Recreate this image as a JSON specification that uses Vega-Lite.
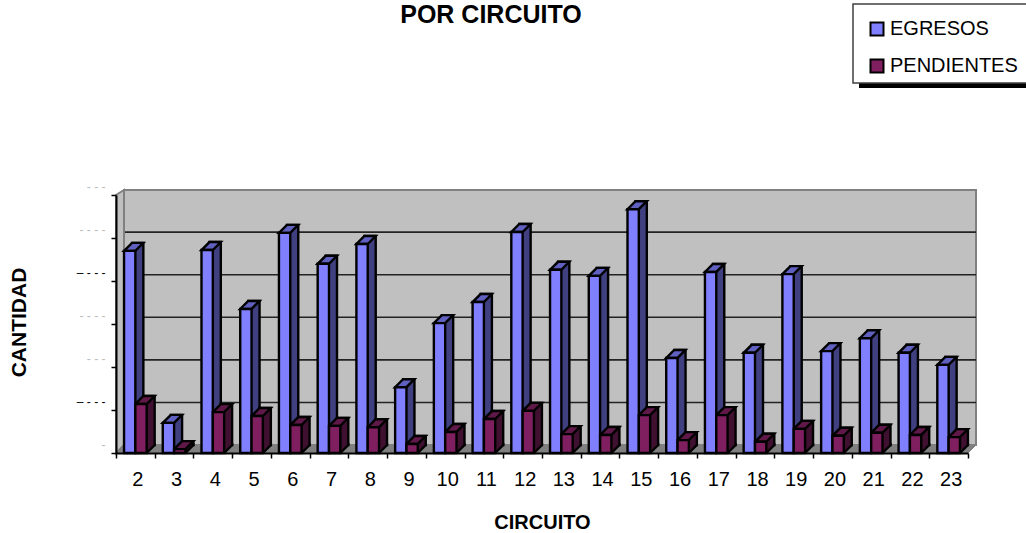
{
"$schema":"https://vega.github.io/schema/vega-lite/v6.json",
"width":852,"height":258,
"autosize":{"type":"none"},
"padding":{"left":116,"top":195,"right":58,"bottom":80},
"background":"white",
"title":{"text":"POR CIRCUITO","font":"Liberation Sans","fontSize":25,"fontWeight":"bold","color":"#000","anchor":"middle","dx":-51,"offset":-27},
"config":{"view":{"stroke":null},"font":"Liberation Sans"},
"data":{"values":[
{"c":2,"s":"EGRESOS","v":470},{"c":3,"s":"EGRESOS","v":70},{"c":4,"s":"EGRESOS","v":472},{"c":5,"s":"EGRESOS","v":335},{"c":6,"s":"EGRESOS","v":512},{"c":7,"s":"EGRESOS","v":440},{"c":8,"s":"EGRESOS","v":486},{"c":9,"s":"EGRESOS","v":153},{"c":10,"s":"EGRESOS","v":302},{"c":11,"s":"EGRESOS","v":351},{"c":12,"s":"EGRESOS","v":514},{"c":13,"s":"EGRESOS","v":426},{"c":14,"s":"EGRESOS","v":412},{"c":15,"s":"EGRESOS","v":567},{"c":16,"s":"EGRESOS","v":221},{"c":17,"s":"EGRESOS","v":421},{"c":18,"s":"EGRESOS","v":233},{"c":19,"s":"EGRESOS","v":416},{"c":20,"s":"EGRESOS","v":237},{"c":21,"s":"EGRESOS","v":267},{"c":22,"s":"EGRESOS","v":233},{"c":23,"s":"EGRESOS","v":205},
{"c":2,"s":"PENDIENTES","v":114},{"c":3,"s":"PENDIENTES","v":9},{"c":4,"s":"PENDIENTES","v":95},{"c":5,"s":"PENDIENTES","v":86},{"c":6,"s":"PENDIENTES","v":65},{"c":7,"s":"PENDIENTES","v":63},{"c":8,"s":"PENDIENTES","v":60},{"c":9,"s":"PENDIENTES","v":21},{"c":10,"s":"PENDIENTES","v":49},{"c":11,"s":"PENDIENTES","v":79},{"c":12,"s":"PENDIENTES","v":98},{"c":13,"s":"PENDIENTES","v":44},{"c":14,"s":"PENDIENTES","v":42},{"c":15,"s":"PENDIENTES","v":88},{"c":16,"s":"PENDIENTES","v":30},{"c":17,"s":"PENDIENTES","v":88},{"c":18,"s":"PENDIENTES","v":26},{"c":19,"s":"PENDIENTES","v":56},{"c":20,"s":"PENDIENTES","v":40},{"c":21,"s":"PENDIENTES","v":47},{"c":22,"s":"PENDIENTES","v":42},{"c":23,"s":"PENDIENTES","v":37}
]},
"resolve":{"scale":{"y":"independent","color":"independent"}},
"layer":[
{"data":{"values":[{"k":"muro"}]},"mark":{"type":"point","filled":true,"opacity":1,"size":4,"fill":"#C0C0C0","stroke":"#808080","strokeWidth":2,"shape":"M8,-8 L860,-8 L860,-263 L8,-263 Z"},
 "encoding":{"x":{"datum":2,"type":"ordinal","bandPosition":0,"scale":{"domain":[2,3,4,5,6,7,8,9,10,11,12,13,14,15,16,17,18,19,20,21,22,23]}},"y":{"datum":0,"type":"quantitative","scale":{"domain":[0,600]},"axis":null}}},
{"data":{"values":[{"g":100},{"g":200},{"g":300},{"g":400},{"g":500}]},"mark":{"type":"rule","color":"#222","strokeWidth":1.6,"xOffset":8,"yOffset":-8},
 "encoding":{"y":{"field":"g","type":"quantitative","scale":{"domain":[0,606]},"axis":null}}},
{"data":{"values":[{"k":"piso"}]},"mark":{"type":"point","filled":true,"opacity":1,"size":4,"fill":"#808080","stroke":"#808080","strokeWidth":1,"shape":"M0,0 L8,-8 L860,-8 L852,0 Z"},
 "encoding":{"x":{"datum":2,"type":"ordinal","bandPosition":0},"y":{"datum":0,"type":"quantitative","scale":{"domain":[0,600]},"axis":null}}},
{"data":{"values":[{"k":"pared"}]},"mark":{"type":"point","filled":true,"opacity":1,"size":4,"fill":"#C0C0C0","stroke":"#808080","strokeWidth":2,"shape":"M0,0 L8,-8 L8,-263 L0,-258 Z"},
 "encoding":{"x":{"datum":2,"type":"ordinal","bandPosition":0},"y":{"datum":0,"type":"quantitative","scale":{"domain":[0,600]},"axis":null}}},
{"data":{"values":[{"k":"sombra"}]},"mark":{"type":"point","filled":true,"opacity":1,"size":4,"fill":"#000","stroke":null,"shape":"M-109,-112 L80,-112 L80,-107 L-109,-107 Z"},
 "encoding":{"x":{"datum":23,"type":"ordinal","bandPosition":1},"y":{"datum":600,"type":"quantitative","scale":{"domain":[0,600]},"axis":null}}},
{"data":{"values":[{"k":"caja"}]},"mark":{"type":"point","filled":true,"opacity":1,"size":4,"fill":"#fff","stroke":"#404040","strokeWidth":1.5,"shape":"M-115,-191 L80,-191 L80,-112 L-115,-112 Z"},
 "encoding":{"x":{"datum":23,"type":"ordinal","bandPosition":1},"y":{"datum":600,"type":"quantitative","scale":{"domain":[0,600]},"axis":null}}},
{"transform":[{"filter":"datum.s=='EGRESOS'"}],"mark":{"type":"bar","width":11.3,"fill":"#404080","stroke":"#000","strokeWidth":2.4,"xOffset":2.35,"yOffset":-8},
 "encoding":{"x":{"field":"c","type":"ordinal"},"y":{"field":"v","type":"quantitative","scale":{"domain":[0,600]},"axis":null}}},
{"transform":[{"filter":"datum.s=='PENDIENTES'"}],"mark":{"type":"bar","width":11.3,"fill":"#401030","stroke":"#000","strokeWidth":2.4,"xOffset":13.65,"yOffset":-8},
 "encoding":{"x":{"field":"c","type":"ordinal"},"y":{"field":"v","type":"quantitative","scale":{"domain":[0,600]},"axis":null}}},
{"mark":{"type":"point","filled":true,"opacity":1,"size":4,"stroke":null,"shape":"M5.65,0 L13.65,-8 L13.65,-10 L5.65,-10 Z"},
 "encoding":{"x":{"field":"c","type":"ordinal"},"xOffset":{"field":"s","scale":{"paddingOuter":0.71,"paddingInner":0}},"y":{"datum":0,"type":"quantitative","scale":{"domain":[0,600]},"axis":null},"color":{"field":"s","scale":{"domain":["EGRESOS","PENDIENTES"],"range":["#404080","#401030"]},"legend":null}}},
{"mark":{"type":"point","filled":false,"opacity":1,"size":4,"stroke":"#000","strokeWidth":2.4,"shape":"M5.65,0 L13.65,-8 L13.65,-10"},
 "encoding":{"x":{"field":"c","type":"ordinal"},"xOffset":{"field":"s","scale":{"paddingOuter":0.71,"paddingInner":0}},"y":{"datum":0,"type":"quantitative","scale":{"domain":[0,600]},"axis":null}}},
{"mark":{"type":"point","filled":true,"opacity":1,"size":4,"stroke":"#000","strokeWidth":2.4,"shape":"M-5.65,0 L5.65,0 L13.65,-8 L2.35,-8 Z"},
 "encoding":{"x":{"field":"c","type":"ordinal"},"xOffset":{"field":"s","scale":{"paddingOuter":0.71,"paddingInner":0}},"y":{"field":"v","type":"quantitative","scale":{"domain":[0,600]},"axis":null},"color":{"field":"s","scale":{"domain":["EGRESOS","PENDIENTES"],"range":["#6060C0","#601848"]},"legend":null}}},
{"mark":{"type":"bar","stroke":"#000","strokeWidth":2.4},
 "encoding":{
 "x":{"field":"c","type":"ordinal","scale":{"type":"band","paddingInner":0,"paddingOuter":0},
  "axis":{"title":"CIRCUITO","titleFont":"Liberation Sans","titleFontSize":20,"titleFontWeight":"bold","titleColor":"#000","titlePadding":23,"labelFont":"Liberation Sans","labelFontSize":20,"labelColor":"#000","labelAngle":0,"labelAlign":"center","labelOffset":2,"labelPadding":21,"tickBand":"extent","tickColor":"#000","tickWidth":1.5,"tickSize":5,"domainColor":"#000","domainWidth":2,"zindex":1}},
 "xOffset":{"field":"s","scale":{"paddingOuter":0.71,"paddingInner":0}},
 "y":{"field":"v","type":"quantitative","scale":{"domain":[0,600]},
  "axis":{"title":"CANTIDAD","titleFont":"Liberation Sans","titleFontSize":21,"titleFontWeight":"bold","titleColor":"#000","titleX":-87,"titleY":127,"values":[0,100,200,300,400,500,600],"grid":false,"domainColor":"#000","domainWidth":2,"tickColor":"#000","tickWidth":1.5,"tickSize":5,"zindex":1,"labelFont":"Liberation Sans","labelFontSize":12,"labelPadding":6,"labelOffset":-9,
  "labelExpr":"datum.value==0?'-':datum.value==100||datum.value==400?'– - - -':datum.value==200||datum.value==600?'- - -':'- - - -'",
  "labelColor":{"condition":{"test":"datum.value==100||datum.value==400","value":"#000"},"value":"#BBBBBB"}}},
 "color":{"field":"s","scale":{"domain":["EGRESOS","PENDIENTES"],"range":["#8080FF","#7F1F5F"]},
  "legend":{"orient":"none","legendX":737,"legendY":-190,"title":null,"padding":14,"symbolType":"square","symbolSize":169,"symbolStrokeColor":"#000","symbolStrokeWidth":2,"labelFont":"Liberation Sans","labelFontSize":20,"labelColor":"#000","labelOffset":3,"rowPadding":15,"values":["EGRESOS","PENDIENTES"]}}}}
]
}
